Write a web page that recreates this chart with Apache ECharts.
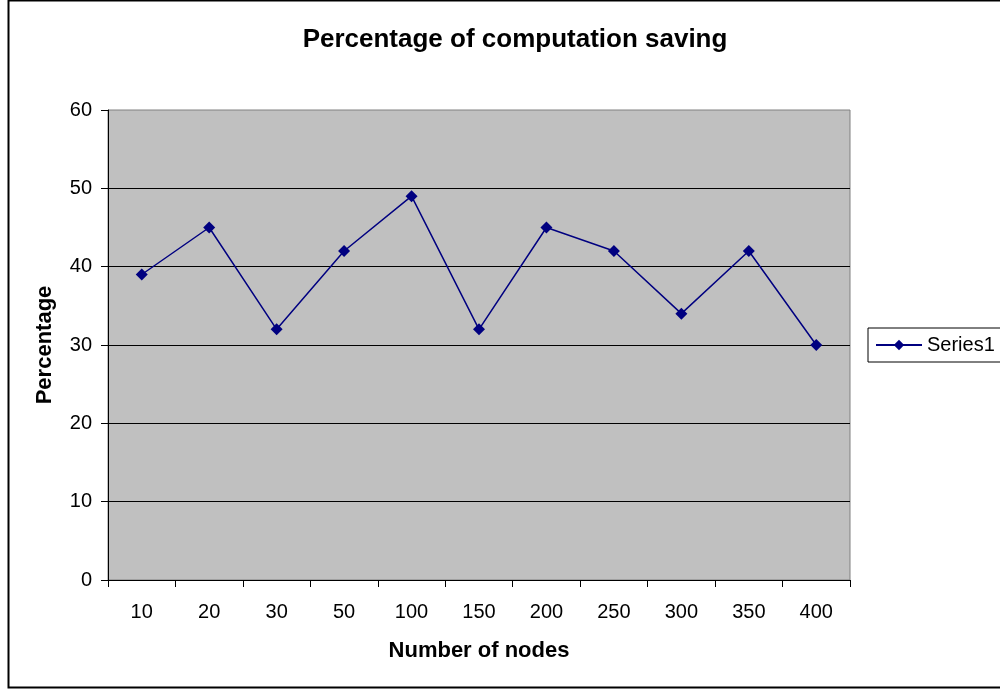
<!DOCTYPE html>
<html><head><meta charset="utf-8">
<script src="https://cdn.jsdelivr.net/npm/echarts@6/dist/echarts.min.js"></script>
<style>html,body{margin:0;padding:0;background:#fff}#c{width:1000px;height:690px}</style>
</head><body><div id="c"></div>
<script>
const categories = ['10','20','30','50','100','150','200','250','300','350','400'];
const series1 = [39,45,32,42,49,32,45,42,34,42,30];
const yTicks = [0,10,20,30,40,50,60];

const chart = echarts.init(document.getElementById('c'), null, {renderer:'canvas'});
const F = 'Liberation Sans, Arial, sans-serif';
chart.setOption({
  animation:false,
  backgroundColor:'#fff',
  title:{text:'Percentage of computation saving',left:510,top:22,textAlign:'center',
    textStyle:{fontFamily:F,fontSize:26,fontWeight:'bold',color:'#000'}},
  legend:{data:['Series1'],left:868,top:328,orient:'vertical',
    padding:[7,12,7,7],borderColor:'#000',borderWidth:1,backgroundColor:'#fff',
    itemWidth:46,itemHeight:13,itemGap:0,
    textStyle:{fontFamily:F,fontSize:20,color:'#000',padding:[0,0,0,0]}},
  grid:{left:108,right:150,top:110,bottom:110,show:true,backgroundColor:'#c0c0c0',borderColor:'#808080',borderWidth:1},
  xAxis:{type:'category',data:categories,boundaryGap:true,
    name:'Number of nodes',nameLocation:'middle',nameGap:60,
    nameTextStyle:{fontFamily:F,fontSize:22,fontWeight:'bold',color:'#000'},
    axisLine:{lineStyle:{color:'#000',width:1}},
    axisTick:{show:true,length:7,lineStyle:{color:'#000'}},
    axisLabel:{fontFamily:F,fontSize:20,color:'#000',margin:22},
    splitLine:{show:false}},
  yAxis:{type:'value',min:0,max:60,interval:10,
    name:'Percentage',nameLocation:'middle',nameGap:52,
    nameTextStyle:{fontFamily:F,fontSize:22,fontWeight:'bold',color:'#000'},
    axisLine:{show:true,lineStyle:{color:'#000',width:1}},
    axisTick:{show:true,length:7,lineStyle:{color:'#000'}},
    axisLabel:{fontFamily:F,fontSize:20,color:'#000',margin:16,
      formatter:v=>yTicks.includes(v)?String(v):''},
    splitLine:{show:true,showMaxLine:false,lineStyle:{color:'#000',width:1}}},
  series:[{name:'Series1',type:'line',data:series1,symbol:'diamond',symbolSize:12,
    itemStyle:{color:'#000080'},lineStyle:{color:'#000080',width:1.5}}],
  graphic:[{type:'rect',shape:{x:8.5,y:0.5,width:1000,height:687},
    style:{fill:null,stroke:'#000',lineWidth:2},silent:true,z:-1}]
});
</script></body></html>
